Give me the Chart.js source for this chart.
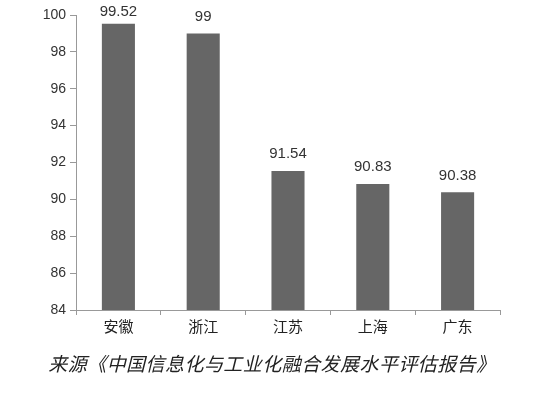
<!DOCTYPE html>
<html>
<head>
<meta charset="utf-8">
<script src="https://cdn.jsdelivr.net/npm/chart.js@4"></script>
<style>
  html, body { margin: 0; padding: 0; background: #fff; }
  #wrap { position: relative; width: 550px; height: 394px; }
  #caption {
    position: absolute; left: 0; top: 349px; width: 544px; text-align: center;
    font-family: "Noto Sans CJK SC", sans-serif; font-style: italic;
    font-size: 19px; color: #222; letter-spacing: 0.45px;
  }
</style>
</head>
<body>
<div id="wrap">
  <canvas id="barChart" width="550" height="394"></canvas>
  <div id="caption">来源《中国信息化与工业化融合发展水平评估报告》</div>
</div>
<script>
const provinces = ["安徽", "浙江", "江苏", "上海", "广东"];
const scores = [99.52, 99, 91.54, 90.83, 90.38];
const scoreLabels = ["99.52", "99", "91.54", "90.83", "90.38"];
const yTicks = [84, 86, 88, 90, 92, 94, 96, 98, 100];

// draws the value above each bar
const valueLabels = {
  id: "valueLabels",
  afterDatasetsDraw(chart) {
    const ctx = chart.ctx;
    const meta = chart.getDatasetMeta(0);
    ctx.save();
    ctx.font = "15px 'Liberation Sans'";
    ctx.fillStyle = "#333";
    ctx.textAlign = "center";
    ctx.textBaseline = "middle";
    meta.data.forEach((bar, i) => {
      const y = Math.max(12, bar.y - 17);
      ctx.fillText(scoreLabels[i], bar.x, y);
    });
    ctx.restore();
  },
};

const ctx = document.getElementById("barChart").getContext("2d");
const barChart = new Chart(ctx, {
  type: "bar",
  data: {
    labels: provinces,
    datasets: [
      {
        data: scores,
        backgroundColor: "#666666",
        barPercentage: 0.39,
        categoryPercentage: 1,
      },
    ],
  },
  options: {
    responsive: false,
    animation: false,
    layout: { padding: { top: 15, right: 50, left: 0, bottom: 0 } },
    plugins: { legend: { display: false }, tooltip: { enabled: false } },
    scales: {
      x: {
        grid: { drawOnChartArea: false, tickLength: 5, color: "#999" },
        border: { color: "#999" },
        ticks: {
          color: "#222",
          font: { family: "'Noto Sans CJK SC'", size: 15 },
          padding: 2,
        },
        afterFit(scale) { scale.height = 84; },
      },
      y: {
        min: 84,
        max: 100,
        afterBuildTicks(scale) { scale.ticks = yTicks.map((v) => ({ value: v })); },
        grid: { drawOnChartArea: false, tickLength: 6, color: "#999" },
        border: { color: "#999" },
        ticks: {
          color: "#333",
          font: { family: "'Liberation Sans'", size: 14 },
          padding: 4,
        },
        afterFit(scale) { scale.width = 76; },
      },
    },
  },
  plugins: [valueLabels],
});
</script>
</body>
</html>
